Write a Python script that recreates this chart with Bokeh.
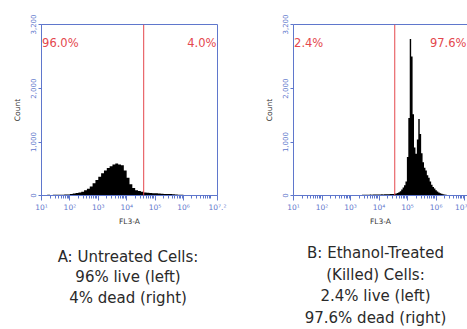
import math
from bokeh.plotting import figure
from bokeh.models import Range1d, FixedTicker, Span, Label, LinearAxis
from bokeh.layouts import column, row
from bokeh.core.properties import value
from bokeh.embed import file_html
from bokeh.resources import INLINE

# ---------------- data ----------------
# Panel A (untreated): log10 FL3-A bin centres and counts
a_bins = [1.05, 1.15, 1.25, 1.35, 1.45, 1.55, 1.65, 1.75, 1.85, 1.95,
          2.05, 2.15, 2.25, 2.35, 2.45, 2.55, 2.65, 2.75, 2.85, 2.95,
          3.05, 3.15, 3.25, 3.35, 3.45, 3.55, 3.65, 3.75, 3.85, 3.95,
          4.05, 4.15, 4.25, 4.35, 4.45, 4.55, 4.65, 4.75, 4.85, 4.95,
          5.05, 5.15, 5.25, 5.35, 5.45, 5.55, 5.65, 5.75, 5.85, 5.95,
          6.05, 6.15]
a_counts = [8, 10, 12, 10, 14, 12, 15, 14, 18, 20,
            26, 38, 45, 58, 72, 98, 125, 170, 228, 290,
            350, 415, 470, 515, 548, 578, 598, 582, 566, 470,
            330, 210, 140, 100, 82, 68, 58, 52, 48, 44,
            40, 38, 34, 30, 28, 26, 22, 20, 16, 12,
            6, 3]
a_gate = 4.6
a_left_pct, a_right_pct = "96.0%", "4.0%"

# Panel B (ethanol-treated)
b_bins = [3.40, 3.45, 3.50, 3.55, 3.60, 3.65, 3.70, 3.75, 3.80, 3.85,
          3.90, 3.95, 4.00, 4.05, 4.10, 4.15, 4.20, 4.25, 4.30, 4.35,
          4.40, 4.45, 4.50, 4.55, 4.60, 4.65, 4.70, 4.75, 4.80, 4.85,
          4.90, 4.95, 5.00, 5.05, 5.10, 5.15, 5.20, 5.25, 5.30, 5.35,
          5.40, 5.45, 5.50, 5.55, 5.60, 5.65, 5.70, 5.75, 5.80, 5.85,
          5.90, 5.95, 6.00, 6.05, 6.10, 6.15, 6.20, 6.25, 6.30, 6.35,
          6.40, 6.45]
b_counts = [12, 14, 15, 13, 16, 15, 17, 16, 18, 17,
            19, 18, 20, 19, 22, 21, 23, 22, 25, 24,
            27, 28, 30, 34, 38, 45, 60, 80, 110, 150,
            190, 260, 720, 1450, 2930, 2600, 1520, 900, 780, 1050,
            1430, 1150, 790, 620, 520, 470, 380, 330, 260, 200,
            160, 130, 100, 75, 55, 40, 32, 24, 18, 12,
            8, 4]
b_gate = 4.55
b_left_pct, b_right_pct = "2.4%", "97.6%"

y_ticks = [0, 1000, 2000, 3200]
y_tick_labels = ["0", "1,000", "2,000", "3,200"]
a_x_ticks = [1, 2, 3, 4, 5, 6, 7.2]
a_x_tick_labels = ["10¹", "10²", "10³", "10⁴", "10⁵", "10⁶", "10⁷.²"]
b_x_ticks = [1, 2, 3, 4, 5, 6, 7]
b_x_tick_labels = ["10¹", "10²", "10³", "10⁴", "10⁵", "10⁶", "10⁷"]

caption_a = ["A: Untreated Cells:", "96% live (left)", "4% dead (right)"]
caption_b = ["B: Ethanol-Treated", "(Killed) Cells:", "2.4% live (left)", "97.6% dead (right)"]

# ---------------- styling ----------------
BLUE = "#5f77cc"
RED = "#e4474d"
FONT = "DejaVu Sans"

minor = [n + math.log10(k) for n in range(1, 8) for k in range(2, 10) if n + math.log10(k) < 7.2]


def make_panel(bins, counts, gate, lpct, rpct, x_end, xt, xtl, width, bl, br, full_frame):
    p = figure(width=width, height=228, x_range=Range1d(1, x_end), y_range=Range1d(0, 3200),
               toolbar_location=None, output_backend="svg",
               min_border_left=bl, min_border_right=br, min_border_top=24, min_border_bottom=29)
    p.xgrid.grid_line_color = None
    p.ygrid.grid_line_color = None
    p.background_fill_color = "white"
    p.border_fill_color = "white"

    xa = p.below[0]
    xa.ticker = FixedTicker(ticks=xt, minor_ticks=minor)
    xa.major_label_overrides = {t: l for t, l in zip(xt, xtl)}
    xa.axis_line_color = BLUE
    xa.major_tick_line_color = BLUE
    xa.minor_tick_line_color = BLUE
    xa.major_tick_out = 5
    xa.major_tick_in = 0
    xa.minor_tick_out = 3
    xa.minor_tick_in = 0
    xa.major_label_text_color = BLUE
    xa.major_label_text_font = FONT
    xa.major_label_text_font_size = "7.5px"
    xa.major_label_standoff = 2
    xa.axis_label = "FL3-A"
    xa.axis_label_text_font = FONT
    xa.axis_label_text_font_size = "7.5px"
    xa.axis_label_text_font_style = "normal"
    xa.axis_label_text_color = "#333333"
    xa.axis_label_standoff = 2

    ya = p.left[0]
    ya.ticker = FixedTicker(ticks=y_ticks)
    ya.major_label_overrides = {t: l for t, l in zip(y_ticks, y_tick_labels)}
    ya.major_label_orientation = "vertical"
    ya.axis_line_color = BLUE
    ya.major_tick_line_color = BLUE
    ya.minor_tick_line_color = None
    ya.major_tick_out = 3
    ya.major_tick_in = 0
    ya.major_label_text_color = BLUE
    ya.major_label_text_font = FONT
    ya.major_label_text_font_size = "7px"
    ya.major_label_standoff = 3
    ya.axis_label = "Count"
    ya.axis_label_text_font = FONT
    ya.axis_label_text_font_size = "7.5px"
    ya.axis_label_text_font_style = "normal"
    ya.axis_label_text_color = "#333333"
    ya.axis_label_standoff = 5

    if full_frame:
        p.outline_line_color = BLUE
        p.outline_line_width = 1
        p.outline_line_alpha = 1
    else:
        p.outline_line_color = None
        top = LinearAxis(ticker=FixedTicker(ticks=[]), major_tick_line_color=None,
                         minor_tick_line_color=None, major_label_text_font_size="0px",
                         axis_line_color=BLUE, major_label_standoff=0)
        p.add_layout(top, "above")

    p.varea_step(x=bins, y1=[0] * len(bins), y2=counts, step_mode="center",
                 fill_color="black")
    p.add_layout(Span(location=gate, dimension="height", line_color=RED, line_width=1))

    p.add_layout(Label(x=1.02, y=2850, text=lpct, text_align="left", text_baseline="middle",
                       text_color=RED, text_font=FONT, text_font_size="11.5px"))
    p.add_layout(Label(x=x_end, y=2850, x_offset=-1, text=rpct, text_align="right",
                       text_baseline="middle", text_color=RED, text_font=FONT,
                       text_font_size="11.5px"))
    return p


pa = make_panel(a_bins, a_counts, a_gate, a_left_pct, a_right_pct, 7.2,
                a_x_ticks, a_x_tick_labels, 253, 41, 36, True)
pb = make_panel(b_bins, b_counts, b_gate, b_left_pct, b_right_pct, 7.1,
                b_x_ticks, b_x_tick_labels, 214, 40, 0, False)

cap = figure(width=467, height=101, x_range=Range1d(0, 467), y_range=Range1d(101, 0),
             toolbar_location=None, output_backend="svg", min_border=0)
cap.axis.visible = False
cap.grid.grid_line_color = None
cap.outline_line_color = None
cap.text(x=[127.5] * len(caption_a), y=[28, 48.5, 69.5], text=caption_a,
         text_align="center", text_baseline="alphabetic", text_font=value(FONT),
         text_font_size="15px", text_color="#2a2a2a")
cap.text(x=[375] * len(caption_b), y=[24.5, 46, 67.5, 89], text=caption_b,
         text_align="center", text_baseline="alphabetic", text_font=value(FONT),
         text_font_size="15px", text_color="#2a2a2a")

layout = column(row(pa, pb), cap)
open("out.html", "w").write(file_html(layout, INLINE))
